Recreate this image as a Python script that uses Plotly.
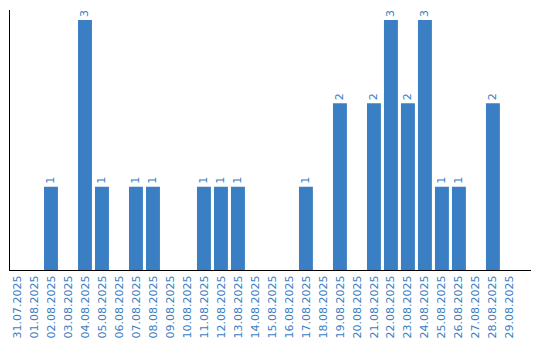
import plotly.graph_objects as go

dates = ["31.07.2025", "01.08.2025", "02.08.2025", "03.08.2025", "04.08.2025", "05.08.2025",
         "06.08.2025", "07.08.2025", "08.08.2025", "09.08.2025", "10.08.2025", "11.08.2025",
         "12.08.2025", "13.08.2025", "14.08.2025", "15.08.2025", "16.08.2025", "17.08.2025",
         "18.08.2025", "19.08.2025", "20.08.2025", "21.08.2025", "22.08.2025", "23.08.2025",
         "24.08.2025", "25.08.2025", "26.08.2025", "27.08.2025", "28.08.2025", "29.08.2025"]
counts = [0, 0, 1, 0, 3, 1, 0, 1, 1, 0, 0, 1, 1, 1, 0, 0, 0, 1, 0, 2, 0, 2, 3, 2, 3, 1, 1, 0, 2, 0]

blue = "#3a7ec3"
labels = [str(v) if v else "" for v in counts]

fig = go.Figure(go.Bar(
    x=list(range(len(dates))), y=counts, marker_color=blue, marker_line_width=0,
    text=labels, textposition="outside", textangle=-90,
    textfont=dict(color=blue, size=11, family="DejaVu Sans"), cliponaxis=False,
))
fig.update_layout(
    width=540, height=340, margin=dict(l=10, r=9, t=10, b=70, autoexpand=False),
    plot_bgcolor="white", paper_bgcolor="white", bargap=0.18, showlegend=False,
    font=dict(family="DejaVu Sans", size=11, color=blue),
)
fig.update_xaxes(range=[-0.41, 30.24], tickmode="array", tickvals=list(range(len(dates))),
                 ticktext=dates, tickangle=-90, showline=True, linecolor="black", linewidth=1,
                 showgrid=False, zeroline=False, ticks="", automargin=False,
                 tickfont=dict(color=blue, size=11, family="DejaVu Sans"))
fig.update_yaxes(range=[0, 3.12], showline=True, linecolor="black", linewidth=1,
                 showgrid=False, zeroline=False, showticklabels=False, ticks="", automargin=False)
fig.write_html("out.html")
